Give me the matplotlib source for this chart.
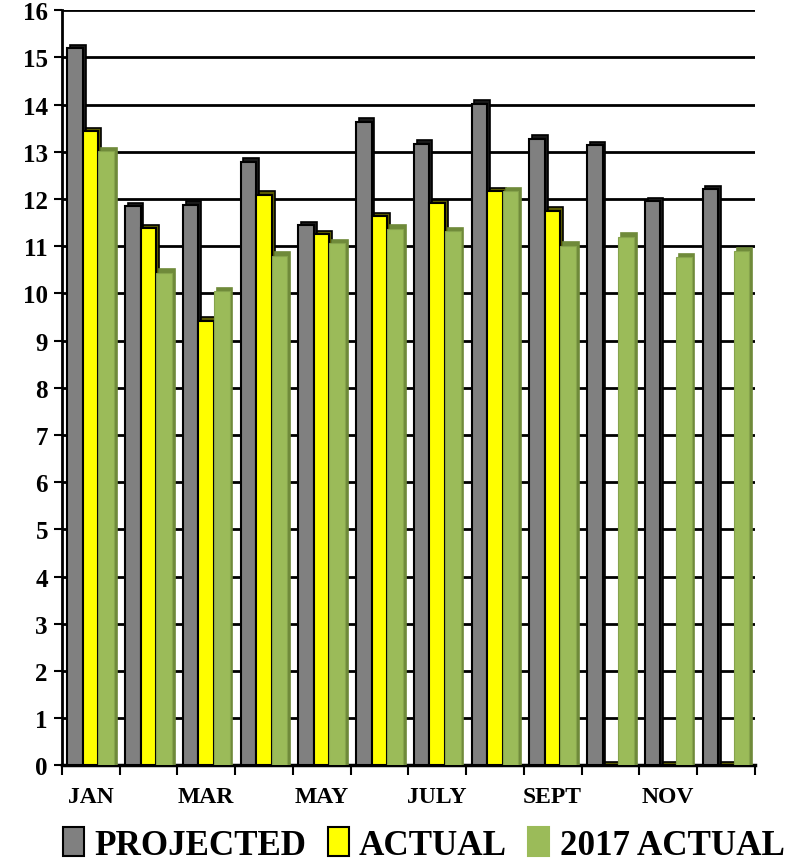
import matplotlib
matplotlib.use('Agg')

import matplotlib.pyplot as plt
import numpy as np
from matplotlib.patches import Patch

# monthly values
months = ["JAN", "FEB", "MAR", "APR", "MAY", "JUNE",
          "JULY", "AUG", "SEPT", "OCT", "NOV", "DEC"]
shown_labels = ["JAN", "", "MAR", "", "MAY", "", "JULY", "", "SEPT", "", "NOV", ""]
projected = [15.2, 11.85, 11.88, 12.79, 11.44, 13.64, 13.17, 14.02, 13.28, 13.14, 11.96, 12.21]
actual = [13.43, 11.38, 9.42, 12.09, 11.26, 11.64, 11.91, 12.16, 11.75, 0, 0, 0]
actual_2017 = [13.02, 10.44, 10.04, 10.8, 11.06, 11.37, 11.32, 12.16, 11.01, 11.2, 10.77, 10.9]

plt.rcParams['font.family'] = ['Liberation Serif', 'DejaVu Serif']
plt.rcParams['font.weight'] = 'bold'

fig = plt.figure(figsize=(7.92, 8.62), dpi=100)
ax = fig.add_axes([0.078, 0.111, 0.875, 0.876])

x = np.arange(len(months))
w = 0.27
dx, dy = 0.05, 0.07  # fake 3d depth

series = [
    (projected, -w, '#808080', '#1a1a1a', 'black', 'PROJECTED'),
    (actual, 0, '#FFFF00', '#5c5c00', 'black', 'ACTUAL'),
    (actual_2017, w, '#9BBB59', '#6f8a3a', '#86a34c', '2017 ACTUAL'),
]

for vals, off, face, side, edge, name in series:
    vals = np.array(vals, dtype=float)
    ax.bar(x + off + dx, vals + dy, width=w, color=side,
           edgecolor=edge if edge == 'black' else side, linewidth=1.2, zorder=3)
    ax.bar(x + off, vals, width=w, color=face,
           edgecolor=edge, linewidth=1.5 if edge == 'black' else 0.8, zorder=4)

ax.set_xlim(-0.5, 11.5)
ax.set_ylim(0, 16)
ax.set_yticks(range(0, 17))
ax.tick_params(axis='y', labelsize=18, length=6, width=1.5, pad=4)
ax.yaxis.grid(True, color='black', linewidth=2)
ax.set_axisbelow(True)

ax.set_xticks(x)
ax.set_xticklabels(shown_labels, fontsize=17)
ax.set_xticks(np.arange(-0.5, 12, 1), minor=True)
ax.tick_params(axis='x', which='major', length=0, pad=15)
ax.tick_params(axis='x', which='minor', length=7, width=1.5)

for s in ['top', 'right']:
    ax.spines[s].set_visible(False)
ax.spines['left'].set_linewidth(2)
ax.spines['bottom'].set_linewidth(2.5)

handles = [Patch(facecolor=f, edgecolor=e if e == 'black' else f, linewidth=1.5, label=n)
           for _, _, f, _, e, n in series]
fig.legend(handles=handles, loc='center', bbox_to_anchor=(0.535, 0.019), ncol=3,
           frameon=False, fontsize=25.2, handlelength=0.6, handleheight=0.9,
           handletextpad=0.3, columnspacing=0.6, borderaxespad=0)

fig.savefig('out.png', dpi=100)
